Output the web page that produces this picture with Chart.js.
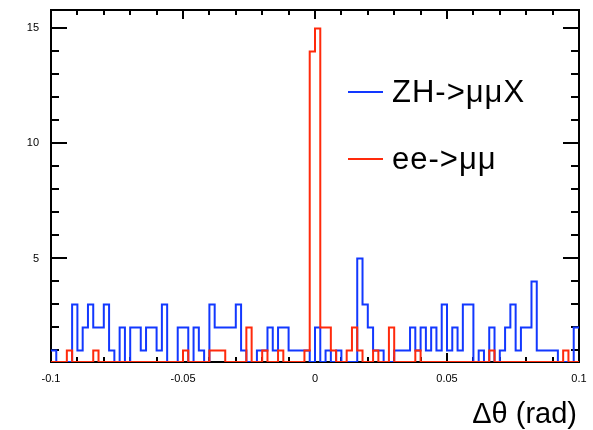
<!DOCTYPE html>
<html>
<head>
<meta charset="utf-8">
<script src="https://cdn.jsdelivr.net/npm/chart.js@4/dist/chart.umd.min.js"></script>
<style>
  html, body { margin: 0; padding: 0; background: #fff; }
  #wrap { width: 593px; height: 430px; }
</style>
</head>
<body>
<div id="wrap"><canvas id="chart" width="593" height="430"></canvas></div>
<script>
// histogram range and binning
const xMin = -0.1;
const xMax = 0.1;
const nBins = 100;
const yMin = 0.5;
const yMax = 15.8;

// counts per bin (bin width 0.002)
const zhCounts = [
  1, 0, 0, 0, 3, 1, 2, 3, 2, 2,
  3, 1, 0, 2, 0, 2, 2, 1, 2, 2,
  1, 3, 0, 0, 2, 2, 0, 2, 1, 0,
  3, 2, 2, 2, 2, 3, 1, 0, 0, 1,
  1, 2, 1, 2, 2, 1, 1, 1, 1, 0,
  2, 0, 1, 0, 1, 0, 0, 0, 5, 3,
  2, 1, 1, 0, 0, 1, 1, 1, 2, 1,
  2, 1, 2, 1, 3, 1, 2, 1, 3, 3,
  0, 1, 0, 2, 0, 1, 2, 3, 1, 2,
  2, 4, 1, 1, 1, 1, 0, 0, 0, 2
];
const eeCounts = [
  0, 0, 0, 1, 0, 0, 0, 0, 1, 0,
  0, 0, 0, 0, 0, 0, 0, 0, 0, 0,
  0, 0, 0, 0, 0, 1, 0, 0, 0, 0,
  1, 1, 1, 0, 0, 0, 0, 2, 0, 0,
  1, 0, 0, 1, 0, 0, 0, 0, 1, 14,
  15, 2, 2, 1, 0, 0, 1, 2, 1, 0,
  0, 1, 0, 0, 2, 0, 0, 0, 0, 1,
  0, 0, 0, 0, 0, 0, 0, 0, 0, 0,
  0, 0, 0, 1, 0, 0, 0, 0, 0, 0,
  0, 0, 0, 0, 0, 0, 0, 1, 0, 0
];
const seriesLabels = ["ZH->μμX", "ee->μμ"];
const seriesColors = ["#1238ff", "#ff2a0c"];
const xTickLabels = ["-0.1", "-0.05", "0", "0.05", "0.1"];
const yTickLabels = ["5", "10", "15"];
const xTitle = "Δθ (rad)";

const binWidth = (xMax - xMin) / nBins;

// bin lower edges + closing edge; empty bins sit on the axis like ROOT clips them
const toSteps = (counts) => {
  const pts = counts.map((v, i) => ({ x: xMin + i * binWidth, y: Math.max(v, yMin) }));
  pts.push({ x: xMax, y: Math.max(counts[counts.length - 1], yMin) });
  return pts;
};

const font = (size) => size + 'px "Liberation Sans", Arial, Helvetica, sans-serif';

const framePlugin = {
  id: "frame",
  beforeDatasetsDraw(chart) {
    const { ctx, chartArea: ca, scales } = chart;
    const xs = scales.x;
    const ys = scales.y;
    ctx.save();
    ctx.strokeStyle = "#000";
    ctx.lineWidth = 2;
    ctx.strokeRect(ca.left, ca.top, ca.right - ca.left, ca.bottom - ca.top);

    ctx.beginPath();
    // y ticks, both sides
    for (let v = 1; v <= 15; v++) {
      const y = Math.round(ys.getPixelForValue(v));
      const len = v % 5 === 0 ? 16 : 8;
      ctx.moveTo(ca.left, y);
      ctx.lineTo(ca.left + len, y);
      ctx.moveTo(ca.right, y);
      ctx.lineTo(ca.right - len, y);
    }
    // x ticks, top and bottom
    for (let i = -10; i <= 10; i++) {
      const x = Math.round(xs.getPixelForValue(i * 0.01));
      const len = i % 5 === 0 ? 9 : 5;
      ctx.moveTo(x, ca.bottom);
      ctx.lineTo(x, ca.bottom - len);
      ctx.moveTo(x, ca.top);
      ctx.lineTo(x, ca.top + len);
    }
    ctx.stroke();
    ctx.restore();
  },
  afterDatasetsDraw(chart) {
    const { ctx, chartArea: ca, scales } = chart;
    const xs = scales.x;
    const ys = scales.y;
    ctx.save();
    ctx.fillStyle = "#000";

    // tick labels
    ctx.font = font(11);
    ctx.textAlign = "right";
    ctx.textBaseline = "middle";
    yTickLabels.forEach((t) => {
      ctx.fillText(t, ca.left - 12, ys.getPixelForValue(parseFloat(t)));
    });
    ctx.textAlign = "center";
    ctx.textBaseline = "top";
    xTickLabels.forEach((t) => {
      ctx.fillText(t, xs.getPixelForValue(parseFloat(t)), ca.bottom + 11);
    });

    // axis title
    ctx.font = font(29);
    ctx.textAlign = "right";
    ctx.textBaseline = "alphabetic";
    ctx.fillText(xTitle, 577, 423);

    // legend
    const rows = [92, 159];
    chart.data.datasets.forEach((ds, i) => {
      const y = rows[i];
      ctx.strokeStyle = ds.borderColor;
      ctx.lineWidth = 2;
      ctx.beginPath();
      ctx.moveTo(348, y);
      ctx.lineTo(383, y);
      ctx.stroke();
      ctx.font = font(31);
      ctx.letterSpacing = "1px";
      ctx.textAlign = "left";
      ctx.fillStyle = "#000";
      ctx.fillText(ds.label, 392, y + 10);
    });
    ctx.restore();
  }
};

const chartHTML = document.getElementById("chart");
chartHTML.graph = new Chart(chartHTML.getContext("2d"), {
  type: "line",
  data: {
    datasets: [
      {
        label: seriesLabels[0],
        data: toSteps(zhCounts),
        borderColor: seriesColors[0],
        order: 1,
      },
      {
        label: seriesLabels[1],
        data: toSteps(eeCounts),
        borderColor: seriesColors[1],
        order: 0,
      },
    ],
  },
  options: {
    responsive: false,
    devicePixelRatio: 1,
    animation: false,
    datasets: {
      line: {
        stepped: true,
        borderWidth: 2,
        pointRadius: 0,
        fill: false,
        tension: 0,
      },
    },
    layout: {
      padding: { left: 51, right: 14, top: 10, bottom: 68 },
    },
    plugins: {
      legend: { display: false },
      tooltip: { enabled: false },
    },
    scales: {
      x: { type: "linear", min: xMin, max: xMax, display: false },
      y: { type: "linear", min: yMin, max: yMax, display: false },
    },
  },
  plugins: [framePlugin],
});
</script>
</body>
</html>
